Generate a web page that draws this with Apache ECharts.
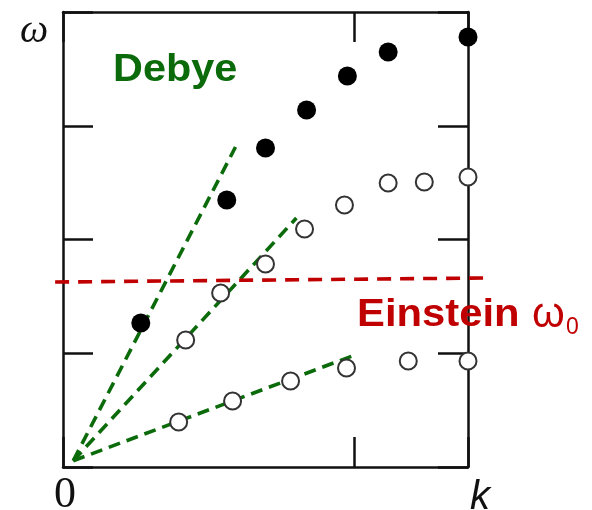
<!DOCTYPE html>
<html>
<head>
<meta charset="utf-8">
<script src="https://cdn.jsdelivr.net/npm/echarts@6/dist/echarts.min.js"></script>
<style>
  html, body { margin: 0; padding: 0; background: #fff; }
  #chart { width: 592px; height: 510px; }
</style>
</head>
<body>
<div id="chart"></div>
<script>
var myChart = echarts.init(document.getElementById('chart'));

// k axis runs 0..1.39 (single tick at 1), omega axis runs 0..4
var filledPts = [[0.267, 1.266], [0.562, 2.347], [0.695, 2.804], [0.836, 3.138], [0.976, 3.437], [1.116, 3.648], [1.390, 3.780]];
var openUpper = [[0.421, 1.116], [0.541, 1.530], [0.695, 1.785], [0.829, 2.092], [0.966, 2.303], [1.116, 2.497], [1.240, 2.505], [1.390, 2.549]];
var openLower = [[0.397, 0.396], [0.582, 0.580], [0.781, 0.756], [0.973, 0.870], [1.185, 0.932], [1.390, 0.932]];

var debyeOrigin = [0.035, 0.055];
var debyeEnds = [[0.592, 2.813], [0.801, 2.189], [0.993, 0.976]];
// the Einstein line sticks out past both sides of the frame
var einsteinLine = [[-0.027, 1.626], [1.459, 1.662]];

var GREEN = '#0b6b0b';
var RED = '#c00000';

// same scale as the frame, but a grid spanning the whole width so nothing gets clipped
var PX = 292; // pixels per k unit
var wideMin = -63 / PX, wideMax = (592 - 63) / PX;

var series = [];

debyeEnds.forEach(function (end) {
  series.push({
    type: 'line',
    data: [debyeOrigin, end],
    symbol: 'none',
    clip: false,
    z: 1,
    lineStyle: { color: GREEN, width: 3.6, type: [12, 7] }
  });
});

series.push({
  type: 'line',
  xAxisIndex: 2,
  yAxisIndex: 2,
  data: einsteinLine,
  symbol: 'none',
  clip: false,
  z: 1,
  lineStyle: { color: RED, width: 3.6, type: [14, 9] }
});

series.push({
  type: 'scatter',
  data: filledPts,
  symbolSize: 19,
  clip: false,
  z: 3,
  itemStyle: { color: '#000', opacity: 1 }
});

[openUpper, openLower].forEach(function (pts) {
  series.push({
    type: 'scatter',
    data: pts,
    symbolSize: 17,
    clip: false,
    z: 3,
    itemStyle: { color: '#fff', borderColor: '#333', borderWidth: 2, opacity: 1 }
  });
});

var frameAxis = {
  axisLine: { show: true, onZero: false, lineStyle: { color: '#111', width: 2.5 } },
  axisTick: { show: true, inside: true, length: 30, lineStyle: { color: '#111', width: 2.5 } },
  axisLabel: { show: false },
  splitLine: { show: false }
};
var hiddenAxis = { show: false, splitLine: { show: false } };

option = {
  animation: false,
  grid: [
    { left: 63, right: 124, top: 12, bottom: 43 },
    { left: 0, right: 0, top: 12, bottom: 43 }
  ],
  xAxis: [
    Object.assign({ type: 'value', gridIndex: 0, position: 'bottom', min: 0, max: 1.39, interval: 1 }, frameAxis),
    Object.assign({ type: 'value', gridIndex: 0, position: 'top', min: 0, max: 1.39, interval: 1 }, frameAxis),
    Object.assign({ type: 'value', gridIndex: 1, min: wideMin, max: wideMax }, hiddenAxis)
  ],
  yAxis: [
    Object.assign({ type: 'value', gridIndex: 0, position: 'left', min: 0, max: 4, interval: 1 }, frameAxis),
    Object.assign({ type: 'value', gridIndex: 0, position: 'right', min: 0, max: 4, interval: 1 }, frameAxis),
    Object.assign({ type: 'value', gridIndex: 1, min: 0, max: 4 }, hiddenAxis)
  ],
  series: series,
  graphic: [
    { type: 'text', x: 20, y: 31, style: { text: 'ω', font: 'italic 40px "Liberation Serif"', fill: '#111', verticalAlign: 'middle' } },
    { type: 'text', x: 54, y: 495, style: { text: '0', font: '44px "Liberation Serif"', fill: '#111', verticalAlign: 'middle' } },
    { type: 'text', x: 470, y: 498, style: { text: 'k', font: 'italic 40px "Liberation Sans"', fill: '#111', verticalAlign: 'middle' } },
    { type: 'text', x: 113, y: 71, scaleX: 1.09, z: 10, style: { text: 'Debye', font: 'bold 38px "Liberation Sans"', fill: GREEN, verticalAlign: 'middle' } },
    { type: 'text', x: 357, y: 316, scaleX: 1.1, z: 10, style: { text: 'Einstein', font: 'bold 38px "Liberation Sans"', fill: RED, verticalAlign: 'middle' } },
    { type: 'text', x: 532, y: 315, z: 10, style: { text: 'ω', font: '42px "Liberation Sans"', fill: RED, verticalAlign: 'middle' } },
    { type: 'text', x: 566, y: 328, z: 10, style: { text: '0', font: '23px "Liberation Sans"', fill: RED, verticalAlign: 'middle' } }
  ]
};

myChart.setOption(option);
</script>
</body>
</html>
